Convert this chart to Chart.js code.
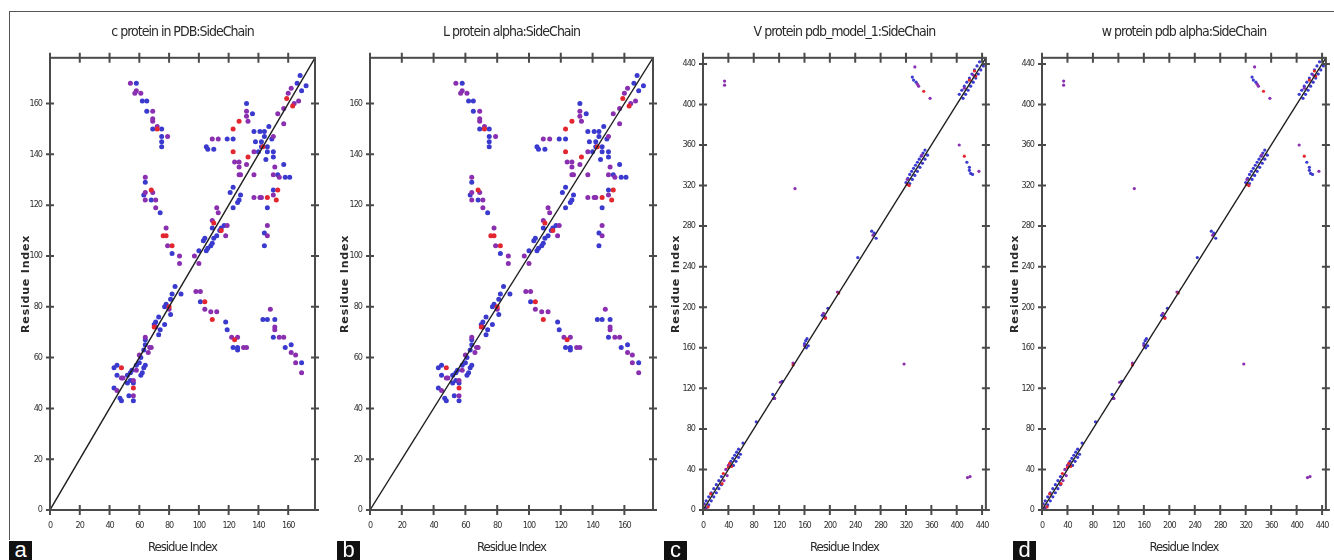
<!DOCTYPE html>
<html>
<head>
<meta charset="utf-8">
<script src="https://cdn.jsdelivr.net/npm/chart.js@4.4.0/dist/chart.umd.min.js"></script>
<style>
  html, body { margin: 0; padding: 0; background: #fff; overflow: hidden; }
  #fig { position: relative; width: 1334px; height: 560px; overflow: hidden; }
  #fig canvas { position: absolute; top: 0; }
  .frame { position: absolute; left: 9px; top: 11px; width: 1400px; height: 528px; border-left: 1px solid #555; border-top: 1px solid #555; }
  .tag { position: absolute; top: 541px; width: 23px; height: 19px; background: #111; color: #fff;
         font: 22px/17px Arial, 'Liberation Sans', sans-serif; text-align: center; overflow: hidden; }
</style>
</head>
<body>
<div id="fig">
  <div class="frame"></div>
  <canvas id="pa" width="330" height="560" style="left:0px"></canvas>
  <canvas id="pb" width="345" height="560" style="left:320px"></canvas>
  <canvas id="pc" width="340" height="560" style="left:660px"></canvas>
  <canvas id="pd" width="345" height="560" style="left:995px"></canvas>
  <div class="tag" style="left:9px">a</div>
  <div class="tag" style="left:337px">b</div>
  <div class="tag" style="left:664px">c</div>
  <div class="tag" style="left:1013px">d</div>
</div>
<script>
// titles and ticks
var titles = ['c protein in PDB:SideChain', 'L protein alpha:SideChain', 'V protein pdb_model_1:SideChain', 'w protein pdb alpha:SideChain'];
var axisLabel = 'Residue Index';
var ticksSmall = [0, 20, 40, 60, 80, 100, 120, 140, 160];
var ticksLarge = [0, 40, 80, 120, 160, 200, 240, 280, 320, 360, 400, 440];
var maxSmall = 178;
var maxLarge = 446;
var diagSmall = [[0, 0], [178, 178]];
var diagLarge = [[0, 0], [446, 446]];

// contacts, panels a and b (same map)
var blueSmall = [
  [58,168],[62,161],[65,161],[65,157],[69,150],[75,150],[75,147],[75,145],[75,143],
  [64,129],[63,124],[68,122],[74,117],[82,101],
  [105,143],[106,142],[110,142],[119,146],[123,146],
  [132,160],[136,156],[137,149],[141,149],[144,149],[138,145],[142,145],[144,147],[146,143],[146,141],
  [150,141],[150,139],[145,138],[153,132],[157,136],[158,131],[161,131],[150,126],[146,119],
  [144,109],[144,104],[143,75],[146,75],[151,75],[150,68],[158,64],[162,65],[169,58],
  [101,82],[118,74],[119,71],[123,64],[126,64],[126,63],
  [43,56],[45,57],[45,53],[43,48],[47,44],[48,43],[53,45],[56,43],
  [52,53],[54,54],[55,55],[58,57],[60,58],[61,53],[62,54],[63,56],[64,57],[61,60],[63,63],[64,65],[64,67],
  [70,73],[71,74],[73,76],[73,69],[74,71],[77,73],[77,80],[78,81],[81,83],[82,85],[84,88],[81,77],[88,85],
  [52,50],[54,51],[56,50],
  [100,102],[103,106],[104,107],[105,102],[106,103],[108,104],[109,105],[109,111],[110,107],[112,108],
  [114,110],[115,111],[117,112],
  [121,125],[123,127],[123,119],[126,121],[127,122],[128,124],
  [140,141],[142,143],[147,151],[149,146],
  [166,168],[168,171],[169,165],[172,167]
];
var purpleSmall = [
  [54,168],[57,164],[58,165],[61,164],[69,157],[69,154],[69,153],[72,151],[79,147],
  [64,131],[64,125],[69,125],[64,122],[71,122],[71,119],[78,111],[79,104],[87,100],[87,97],
  [109,146],[113,146],
  [132,157],[132,155],[133,153],[124,137],[127,137],[127,135],[127,132],[128,132],[132,136],[137,132],
  [137,141],[137,123],[141,123],[142,123],[150,147],[151,135],[150,132],[154,131],[150,124],[153,156],
  [157,158],[157,152],[160,164],[162,166],[164,160],[167,161],
  [98,86],[101,86],[104,79],[108,78],[112,78],[122,68],[126,68],[130,64],[132,64],[148,79],[151,72],
  [151,71],[154,68],[157,68],[162,62],[165,61],[165,58],[169,54],[146,108],[146,112],
  [97,100],[100,97],[109,114],[113,117],[112,119],[118,108],[119,112],
  [64,68],[66,62],[67,64],[68,64],[48,52],[49,52],[45,47],[56,45],[56,51],[58,55],[60,61],[71,72],[80,79]
];
var redSmall = [
  [72,150],[123,150],[127,153],[123,141],[133,139],[143,143],[153,126],[146,123],[159,162],[163,159],
  [48,56],[56,48],[70,72],[80,80],[68,126],[76,108],[78,108],[82,104],[104,82],[109,75],[124,67],
  [115,110],[110,113],[152,122]
];

// contacts, panels c and d (same map)
var blueLarge = [
  [2,6],[5,9],[9,13],[13,17],[17,21],[21,25],[25,29],[29,33],[44,48],[47,51],[50,54],[53,57],[56,60],
  [5,2],[9,5],[13,9],[17,13],[21,17],[25,21],[29,25],[48,44],[52,48],[56,52],[59,55],
  [63,66],[84,87],[110,114],[112,110],[125,127],[160,164],[162,167],[164,169],[163,160],[166,162],
  [188,192],[197,199],[244,249],[266,275],[270,273],[273,268],
  [320,323],[323,327],[326,331],[329,334],[332,337],[335,340],[338,343],[341,346],[344,349],[347,352],[350,355],
  [326,322],[330,326],[334,330],[338,334],[342,338],[346,342],[350,346],[354,350],
  [404,410],[408,414],[412,418],[416,422],[420,426],[424,430],[428,434],[432,438],[436,442],[440,446],
  [410,406],[414,410],[418,414],[422,418],[426,422],[430,426],[434,430],[438,434],[442,438],
  [330,427],[332,424],[336,422],[416,343],[420,338],[420,335],[422,332],[425,331]
];
var purpleLarge = [
  [34,423],[34,419],[145,317],[317,144],[334,437],[338,420],[340,418],[358,406],[404,360],[435,334],
  [417,32],[421,33],[36,40],[40,44],[33,29],[38,34],[113,110],[190,194],[193,190],[212,215],[142,145],
  [122,126],[268,271],[160,162],[322,326],[345,350],[412,416],[426,429]
];
var redLarge = [
  [0,5],[4,0],[42,46],[45,43],[32,36],[30,26],[214,214],[142,143],[348,413],[412,349],[322,321],
  [325,320],[430,428],[428,433],[193,189],[8,3],[12,16],[40,42],[420,424]
];

var narrow = "'DejaVu Sans Condensed', 'Liberation Sans Narrow', sans-serif";

function toXY(arr) {
  return arr.map(function (p) { return { x: p[0], y: p[1] }; });
}

// tight text first, the y title (drawn after the points) gets wider spacing
var spacingPlugin = {
  id: 'spacing',
  beforeDraw: function (chart) { chart.ctx.letterSpacing = '-1px'; },
  afterDatasetsDraw: function (chart) { chart.ctx.letterSpacing = '0.8px'; }
};

// box with crossing tick marks on all four sides
var framePlugin = {
  id: 'frame',
  afterDraw: function (chart) {
    var ctx = chart.ctx, a = chart.chartArea, xs = chart.scales.x, ys = chart.scales.y;
    ctx.save();
    ctx.strokeStyle = '#4a4a4a';
    ctx.lineWidth = 2;
    ctx.strokeRect(a.left, a.top, a.right - a.left, a.bottom - a.top);
    ctx.beginPath();
    xs.ticks.forEach(function (t) {
      var px = xs.getPixelForValue(t.value);
      ctx.moveTo(px, a.bottom - 5); ctx.lineTo(px, a.bottom + 5);
      ctx.moveTo(px, a.top - 5); ctx.lineTo(px, a.top + 5);
    });
    ys.ticks.forEach(function (t) {
      var py = ys.getPixelForValue(t.value);
      ctx.moveTo(a.left - 4, py); ctx.lineTo(a.left + 4, py);
      ctx.moveTo(a.right - 4, py); ctx.lineTo(a.right + 4, py);
    });
    ctx.stroke();
    ctx.restore();
  }
};

function graficar(id, o) {
  var ctx = document.getElementById(id).getContext('2d');
  return new Chart(ctx, {
    type: 'scatter',
    data: {
      datasets: [
        { type: 'line', data: toXY(o.diag), borderColor: '#1e1e1e', borderWidth: 1.4, pointRadius: 0, fill: false },
        { data: toXY(o.red), backgroundColor: '#e3262f', pointRadius: o.r, borderWidth: 0 },
        { data: toXY(o.purple), backgroundColor: '#8a2fb0', pointRadius: o.r, borderWidth: 0 },
        { data: toXY(o.blue), backgroundColor: '#3a3acf', pointRadius: o.r, borderWidth: 0 }
      ]
    },
    options: {
      responsive: false,
      animation: false,
      events: [],
      layout: { padding: { left: 0, right: o.padR, top: 0, bottom: 0 } },
      plugins: {
        legend: { display: false },
        tooltip: { enabled: false },
        title: {
          display: true, text: o.title, fullSize: false, color: '#2a2a2a',
          font: { family: narrow, size: 14, weight: 'normal' }, padding: { top: 24, bottom: 17 }
        }
      },
      scales: {
        x: {
          type: 'linear', min: 0, max: o.max,
          grid: { display: false, drawTicks: false },
          border: { display: false },
          afterBuildTicks: function (s) { s.ticks = o.ticks.map(function (v) { return { value: v }; }); },
          afterFit: function (s) { s.height = 50; },
          ticks: { autoSkip: false, maxRotation: 0, padding: 10, color: '#333', font: { family: narrow, size: 9 } },
          title: { display: true, text: axisLabel, color: '#2a2a2a', font: { family: narrow, size: 13 }, padding: { top: 0, bottom: 5 } }
        },
        y: {
          type: 'linear', min: 0, max: o.max,
          grid: { display: false, drawTicks: false, z: 1 },
          border: { display: false },
          afterBuildTicks: function (s) { s.ticks = o.ticks.map(function (v) { return { value: v }; }); },
          afterFit: function (s) { s.width = o.yw; },
          ticks: { autoSkip: false, padding: 8, color: '#333', font: { family: narrow, size: 9 } },
          title: { display: true, text: axisLabel, color: '#2a2a2a', font: { family: 'DejaVu Sans', size: 11, weight: 'bold' }, padding: { top: o.yPad, bottom: 0 } }
        }
      }
    },
    plugins: [spacingPlugin, framePlugin]
  });
}

graficar('pa', { title: titles[0], max: maxSmall, ticks: ticksSmall, diag: diagSmall, blue: blueSmall, purple: purpleSmall, red: redSmall, r: 2.5, padR: 15, yw: 50, yPad: 20 });
graficar('pb', { title: titles[1], max: maxSmall, ticks: ticksSmall, diag: diagSmall, blue: blueSmall, purple: purpleSmall, red: redSmall, r: 2.5, padR: 12, yw: 50, yPad: 19 });
graficar('pc', { title: titles[2], max: maxLarge, ticks: ticksLarge, diag: diagLarge, blue: blueLarge, purple: purpleLarge, red: redLarge, r: 1.6, padR: 8, yw: 43, yPad: 10 });
graficar('pd', { title: titles[3], max: maxLarge, ticks: ticksLarge, diag: diagLarge, blue: blueLarge, purple: purpleLarge, red: redLarge, r: 1.6, padR: 6, yw: 47, yPad: 14 });
</script>
</body>
</html>
